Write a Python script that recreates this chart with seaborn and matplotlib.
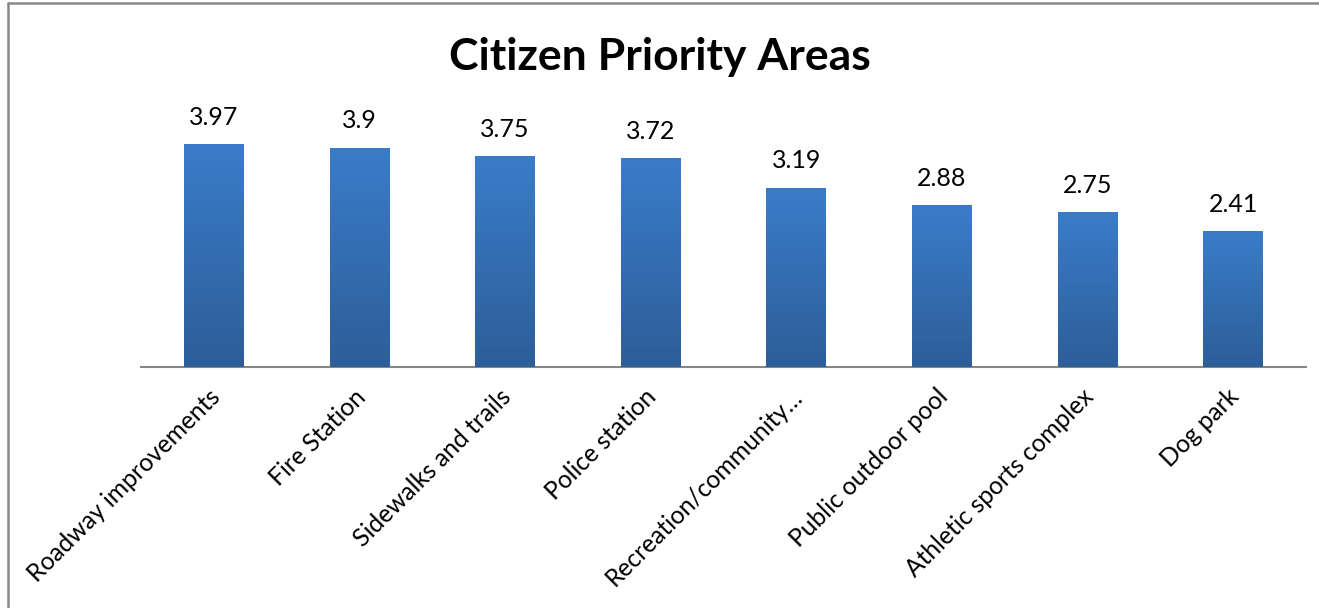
import numpy as np
import pandas as pd
import matplotlib
matplotlib.use("Agg")
import matplotlib.pyplot as plt
from matplotlib.lines import Line2D
from matplotlib.colors import LinearSegmentedColormap
from matplotlib.transforms import ScaledTranslation
import seaborn as sns

categories = [
    "Roadway improvements",
    "Fire Station",
    "Sidewalks and trails",
    "Police station",
    "Recreation/community…",
    "Public outdoor pool",
    "Athletic sports complex",
    "Dog park",
]
scores = [3.97, 3.9, 3.75, 3.72, 3.19, 2.88, 2.75, 2.41]
value_labels = ["3.97", "3.9", "3.75", "3.72", "3.19", "2.88", "2.75", "2.41"]
title = "Citizen Priority Areas"

sns.set_theme(style="white")
plt.rcParams["font.family"] = ["Lato", "DejaVu Sans"]

df = pd.DataFrame({"area": categories, "score": scores})

fig = plt.figure(figsize=(13.19, 6.08), dpi=100)
ax = fig.add_axes([0.1069, 0.3964, 0.8832, 0.4161])

sns.barplot(data=df, x="area", y="score", color="#3470b8", width=0.41,
            saturation=1, ax=ax, zorder=2)

# vertical gradient fill on each bar: lighter at top, darker at bottom
grad = LinearSegmentedColormap.from_list("bar_grad", ["#2d5e98", "#3a7cca"])
gradient = np.linspace(0, 1, 256).reshape(-1, 1)
for patch in ax.patches:
    x0, y0 = patch.get_x(), patch.get_y()
    w, h = patch.get_width(), patch.get_height()
    im = ax.imshow(gradient, cmap=grad, origin="lower", aspect="auto",
                   extent=[x0, x0 + w, y0, y0 + h], zorder=3)
    im.set_clip_path(patch)

ax.set_xlim(-0.5, len(categories) - 0.5)
ax.set_ylim(0, 4.5)

for i, (v, lab) in enumerate(zip(scores, value_labels)):
    ax.annotate(lab, (i, v), xytext=(0, 11), textcoords="offset points",
                ha="center", va="bottom", fontsize=18, color="#000000")

ax.set_xlabel("")
ax.set_ylabel("")
ax.set_yticks([])
ax.tick_params(axis="x", length=0, pad=10)
ax.set_xticks(range(len(categories)))
ax.set_xticklabels(categories, rotation=45, ha="right", rotation_mode="anchor",
                   fontsize=17.7, color="#000000")
# nudge the slanted category labels slightly left and down
shift = ScaledTranslation(-6 / 100, -4 / 100, fig.dpi_scale_trans)
for lbl in ax.get_xticklabels():
    lbl.set_transform(lbl.get_transform() + shift)
for spine in ["left", "top", "right"]:
    ax.spines[spine].set_visible(False)
ax.spines["bottom"].set_color("#868686")
ax.spines["bottom"].set_linewidth(1.5)

fig.text(0.5, 0.907, title, ha="center", va="center", fontsize=32,
         fontweight="bold", color="#000000")

# chart frame edges along the left and top
fig.add_artist(Line2D([0.0057, 0.0057], [0, 0.995], transform=fig.transFigure,
                      color="#898989", linewidth=1.8))
fig.add_artist(Line2D([0.0057, 1.0], [0.995, 0.995], transform=fig.transFigure,
                      color="#898989", linewidth=1.8))

fig.savefig("out.png", dpi=100, facecolor="white")
